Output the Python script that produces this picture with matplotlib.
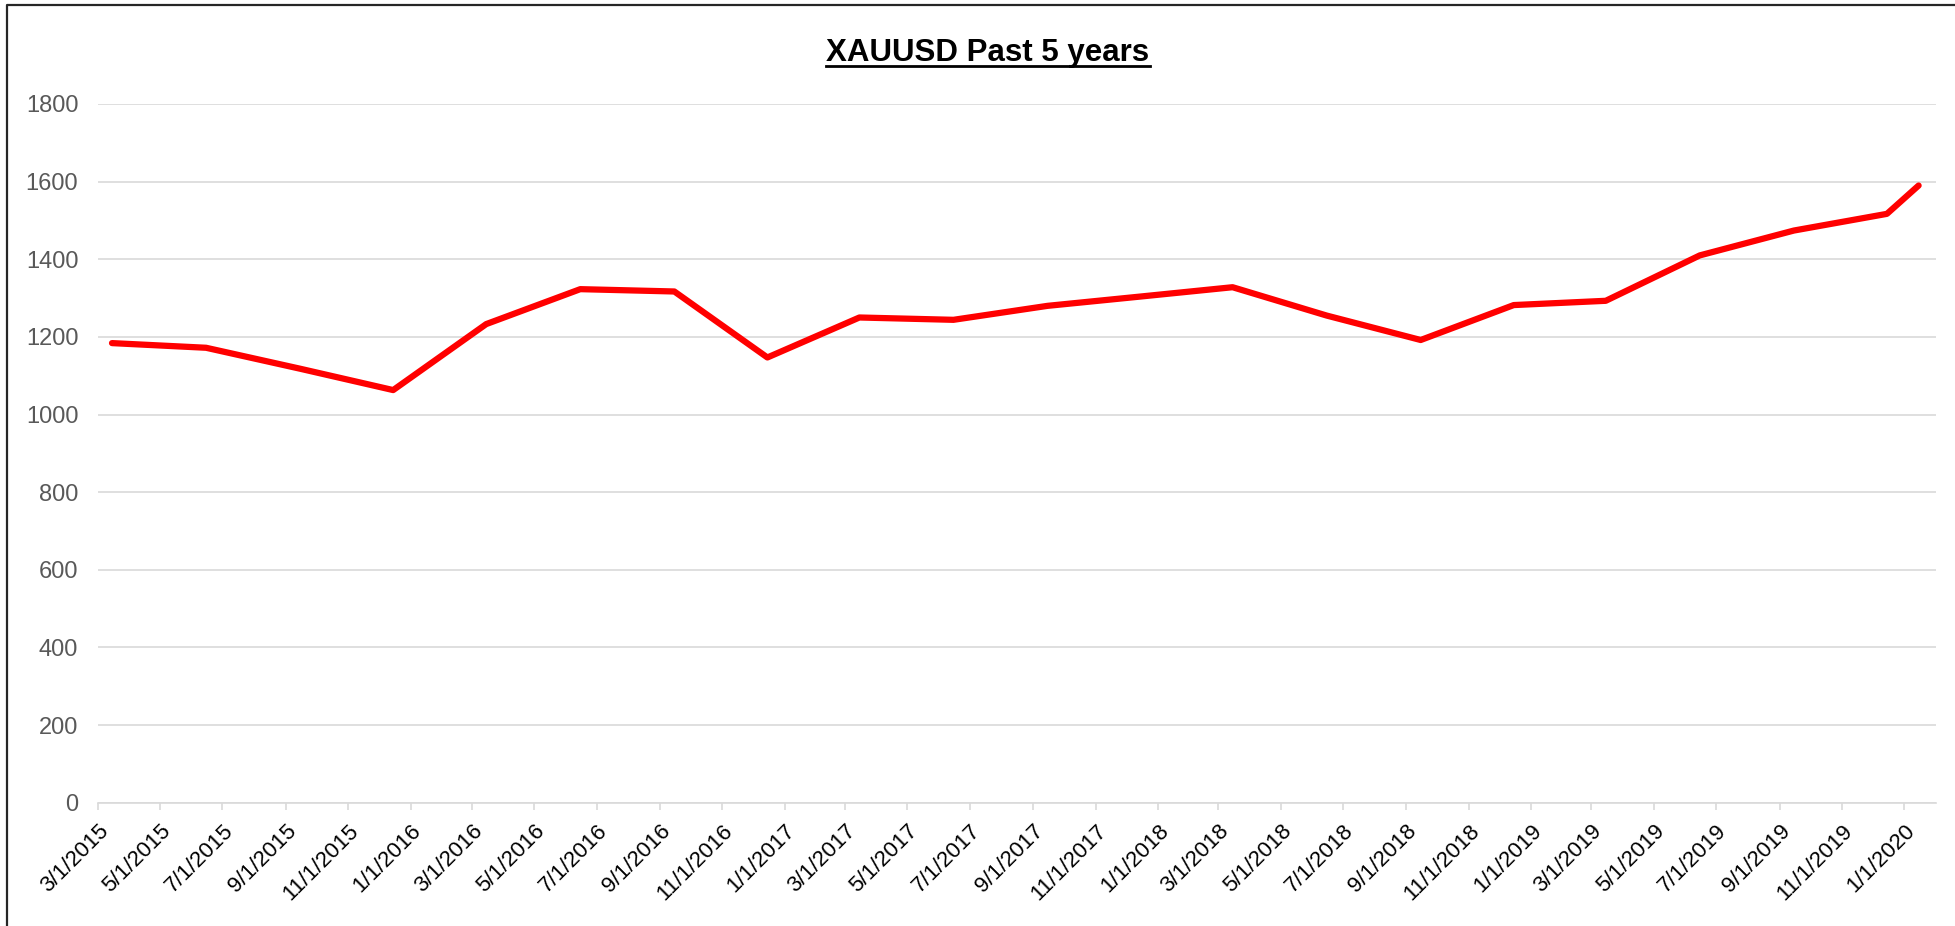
import matplotlib
matplotlib.use("Agg")
import matplotlib.pyplot as plt
import matplotlib.dates as mdates
from matplotlib.lines import Line2D
from matplotlib.ticker import FuncFormatter
from datetime import datetime

# ---- data ----
dates = ["2015-03-15", "2015-06-15", "2015-09-15", "2015-12-15",
         "2016-03-15", "2016-06-15", "2016-09-15", "2016-12-15",
         "2017-03-15", "2017-06-15", "2017-09-15", "2017-12-15",
         "2018-03-15", "2018-06-15", "2018-09-15", "2018-12-15",
         "2019-03-15", "2019-06-15", "2019-09-15", "2019-12-15",
         "2020-01-15"]
prices = [1184, 1172, 1118, 1063,
          1233, 1323, 1317, 1147,
          1250, 1244, 1280, 1304,
          1328, 1255, 1192, 1282,
          1293, 1410, 1474, 1517,
          1590]
y_ticks = [0, 200, 400, 600, 800, 1000, 1200, 1400, 1600, 1800]
x_start = "2015-03-01"
x_end = "2020-02-01"
title = "XAUUSD Past 5 years"

plt.rcParams["font.family"] = ["Liberation Sans", "DejaVu Sans"]

W, H = 1955, 926
fig = plt.figure(figsize=(W / 100, H / 100), dpi=100)
ax = fig.add_axes([97.7 / W, 1 - 802.7 / H, (1936 - 97.7) / W, (802.7 - 104) / H])

xd = [datetime.strptime(d, "%Y-%m-%d") for d in dates]
ax.plot(xd, prices, color="#FF0000", lw=4.5,
        solid_capstyle="round", solid_joinstyle="round", zorder=3)

ax.set_xlim(datetime.strptime(x_start, "%Y-%m-%d"), datetime.strptime(x_end, "%Y-%m-%d"))
ax.set_ylim(y_ticks[0], y_ticks[-1])
ax.set_yticks(y_ticks)
ax.grid(axis="y", color="#D9D9D9", lw=1.2)
ax.set_axisbelow(True)

for s in ["left", "right", "top"]:
    ax.spines[s].set_visible(False)
ax.spines["bottom"].set_color("#D9D9D9")
ax.spines["bottom"].set_linewidth(1.2)

ax.xaxis.set_major_locator(mdates.MonthLocator(bymonth=[1, 3, 5, 7, 9, 11], bymonthday=1))
ax.xaxis.set_major_formatter(FuncFormatter(
    lambda v, p: "{d.month}/{d.day}/{d.year}".format(d=mdates.num2date(v))))

ax.tick_params(axis="y", length=0, pad=14, labelsize=17, labelcolor="#595959")
ax.tick_params(axis="x", length=5, width=1.2, color="#D9D9D9",
               labelsize=16, labelcolor="black", pad=8)

fig.canvas.draw()
plt.setp(ax.get_xticklabels(), rotation=45, ha="right", va="top", rotation_mode="anchor")

# title with underline
t = fig.text(988 / W, 1 - 61 / H, title, ha="center", va="baseline",
             fontsize=22.5, fontweight="bold", color="black")
fig.canvas.draw()
bb = t.get_window_extent(fig.canvas.get_renderer())
uy = 1 - 66 / H
fig.add_artist(Line2D([bb.x0 / W, bb.x1 / W], [uy, uy], transform=fig.transFigure,
                      color="black", lw=2.0))

# chart border (left and top visible)
fig.add_artist(Line2D([7 / W, 7 / W, 1.0], [0.0, 1 - 5 / H, 1 - 5 / H],
                      transform=fig.transFigure, color="#262626", lw=1.6))

fig.savefig("out.png", dpi=100)
